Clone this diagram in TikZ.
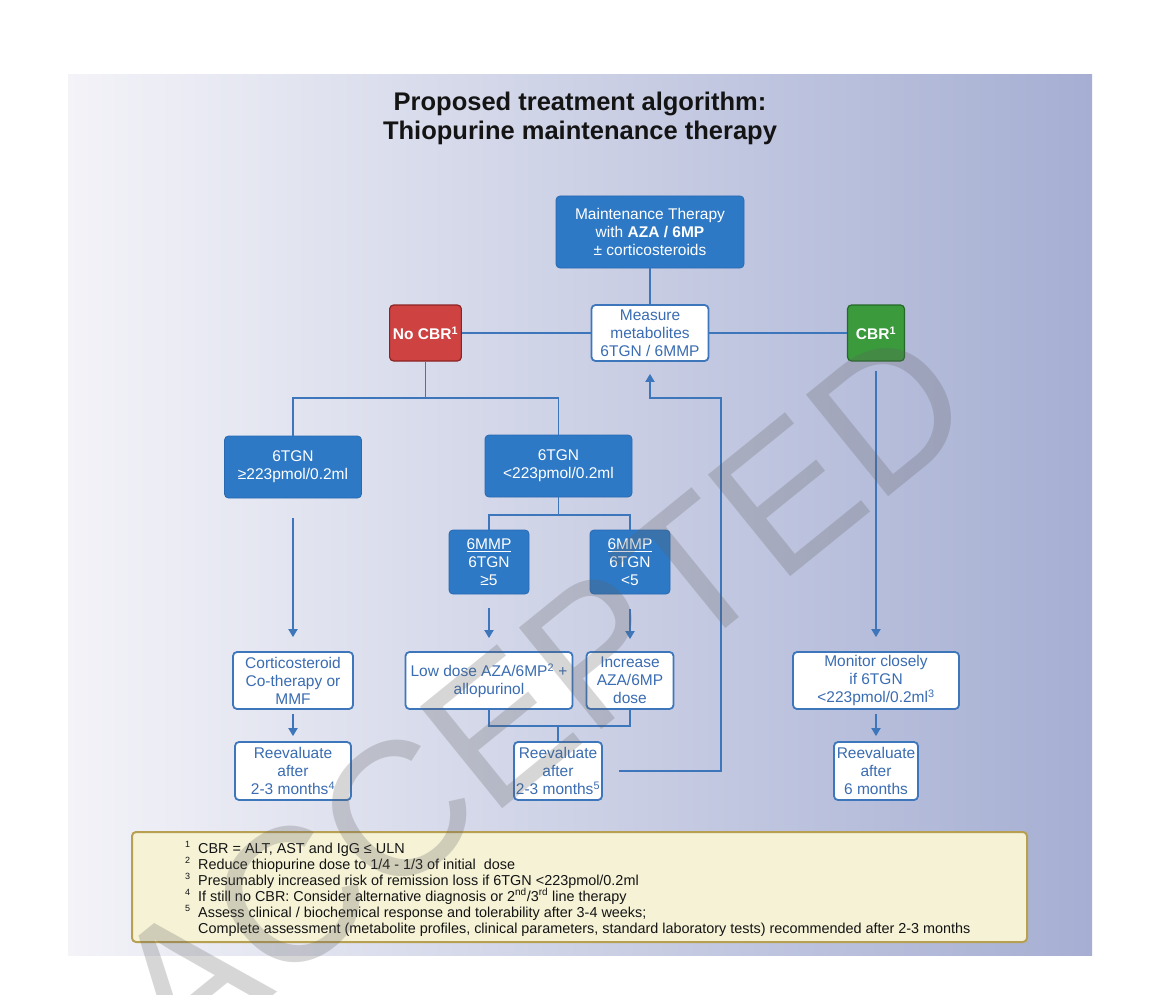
\documentclass[tikz,border=0pt]{standalone}
\usepackage{fontspec}
\setmainfont{Liberation Sans}
\usetikzlibrary{arrows.meta,calc}
\definecolor{bgl}{RGB}{243,243,248}
\definecolor{bgr}{RGB}{166,175,211}
\definecolor{boxblue}{RGB}{46,121,197}
\definecolor{boxblueb}{RGB}{40,106,178}
\definecolor{lineblue}{RGB}{62,118,188}
\definecolor{textblue}{RGB}{58,108,178}
\definecolor{redfill}{RGB}{206,66,66}
\definecolor{redb}{RGB}{140,36,36}
\definecolor{greenfill}{RGB}{58,154,60}
\definecolor{greenb}{RGB}{36,105,40}
\definecolor{footfill}{RGB}{245,242,214}
\definecolor{footb}{RGB}{184,160,82}
\definecolor{titlec}{RGB}{20,20,20}
\definecolor{wmgray}{RGB}{95,95,95}
\tikzset{
  boxfont/.style={font=\fontsize{15.5}{18}\selectfont},
  bluebox/.style={boxfont, fill=boxblue, draw=boxblueb, line width=0.8pt, rounded corners=4pt, text=white, align=center, inner sep=2pt},
  whitebox/.style={boxfont, fill=white, draw=lineblue, line width=1.8pt, rounded corners=4pt, text=textblue, align=center, inner sep=2pt},
  redbox/.style={fill=redfill, draw=redb, line width=1.2pt, rounded corners=4pt, text=white, align=center, font=\fontsize{15.5}{18}\selectfont\bfseries},
  greenbox/.style={fill=greenfill, draw=greenb, line width=1.2pt, rounded corners=4pt, text=white, align=center, font=\fontsize{15.5}{18}\selectfont\bfseries},
  conn/.style={draw=lineblue, line width=1.8pt},
  arr/.style={conn, -{Triangle[width=9pt,length=8pt]}},
  fntext/.style={anchor=base west, inner sep=0pt, text=titlec, font=\fontsize{14.4}{16}\selectfont},
  fnmk/.style={anchor=base west, inner sep=0pt, text=titlec, font=\fontsize{9}{9}\selectfont},
}
\begin{document}
\begin{tikzpicture}[x=1pt,y=-1pt]
\useasboundingbox (0,0) rectangle (1170,995);
\fill[white] (0,0) rectangle (1170,995);
\shade[left color=bgl,right color=bgr] (68,75) rectangle (1092,955);

% title
\node[text=titlec, font=\fontsize{25.5}{29}\selectfont\bfseries, align=center] (title) at (580,118) {Proposed treatment algorithm:\\Thiopurine maintenance therapy};

% nodes
\node[bluebox, minimum width=188pt, minimum height=72pt] (maint) at (650,232) {Maintenance Therapy\\with \textbf{AZA / 6MP}\\± corticosteroids};
\node[whitebox, minimum width=117pt, minimum height=56pt] (measure) at (650,333) {Measure\\metabolites\\6TGN / 6MMP};
\node[redbox, minimum width=67pt, minimum height=56pt] (nocbr) at (425.5,333) {No CBR\textsuperscript{1}};
\node[greenbox, minimum width=57pt, minimum height=56pt] (cbr) at (876,333) {CBR\textsuperscript{1}};

\node[bluebox, minimum width=137pt, minimum height=62pt] (tgnhi) at (293,467) {6TGN\\≥223pmol/0.2ml};
\node[bluebox, minimum width=147pt, minimum height=62pt] (tgnlo) at (558.5,466) {6TGN\\<223pmol/0.2ml};
\node[bluebox, minimum width=80pt, minimum height=64pt] (mmphi) at (489,562) {\underline{6MMP}\\6TGN\\≥5};
\node[bluebox, minimum width=80pt, minimum height=64pt] (mmplo) at (630,562) {\underline{6MMP}\\6TGN\\<5};

\node[whitebox, minimum width=120pt, minimum height=57pt] (cortico) at (293,680.5) {Corticosteroid\\Co-therapy or\\MMF};
\node[whitebox, minimum width=167pt, minimum height=57pt] (lowdose) at (489,680.5) {Low dose AZA/6MP\textsuperscript{2} +\\allopurinol};
\node[whitebox, minimum width=87pt, minimum height=57pt] (increase) at (630,680.5) {Increase\\AZA/6MP\\dose};
\node[whitebox, minimum width=166pt, minimum height=57pt] (monitor) at (876,680.5) {Monitor closely\\if 6TGN\\<223pmol/0.2ml\textsuperscript{3}};

\node[whitebox, minimum width=116pt, minimum height=58pt] (reev1) at (293,771) {Reevaluate\\after\\2-3 months\textsuperscript{4}};
\node[whitebox, minimum width=86pt, minimum height=58pt] (reev2) at (558,771) {Reevaluate\\after\\2-3 months\textsuperscript{5}};
\node[whitebox, minimum width=84pt, minimum height=58pt] (reev3) at (876,771) {Reevaluate\\after\\6 months};

% connectors
\draw[conn] (maint.south) -- (measure.north);
\draw[conn] (nocbr.east) -- (measure.west);
\draw[conn] (measure.east) -- (cbr.west);
\coordinate (j1) at (425.5,398);
\draw[conn] (nocbr.south) -- (j1);
\draw[conn] (tgnhi.north) |- (j1) -| (tgnlo.north);
\coordinate (j2) at (558.5,515);
\draw[conn] (tgnlo.south) -- (j2);
\draw[conn] (mmphi.north) |- (j2) -| (mmplo.north);

\draw[arr, shorten <=20pt, shorten >=14pt] (tgnhi.south) -- (cortico.north);
\draw[arr, shorten <=14pt, shorten >=13pt] (mmphi.south) -- (lowdose.north);
\draw[arr, shorten <=15pt, shorten >=12pt] (mmplo.south) -- (increase.north);
\draw[arr, shorten <=9pt, shorten >=14pt] (cbr.south) -- (monitor.north);
\draw[arr, shorten <=4pt, shorten >=5pt] (cortico.south) -- (reev1.north);
\draw[arr, shorten <=4pt, shorten >=5pt] (monitor.south) -- (reev3.north);

\coordinate (j3) at (558,726);
\draw[conn] (lowdose.south) |- (j3) -| (increase.south);
\draw[conn] (j3) -- (reev2.north);

\coordinate (fb1) at (721,398);
\draw[arr] ([xshift=16pt]reev2.east) -| (fb1) -| ([yshift=-12pt]measure.south);

% footnotes
\draw[fill=footfill, draw=footb, line width=2pt, rounded corners=4pt] (132,832) rectangle (1027,942);
\node[fnmk] (m1) at (185,847) {1};
\node[fnmk] (m2) at (185,863) {2};
\node[fnmk] (m3) at (185,879) {3};
\node[fnmk] (m4) at (185,895) {4};
\node[fnmk] (m5) at (185,911) {5};
\node[fntext] (f1) at (198,853) {CBR = ALT, AST and IgG ≤ ULN};
\node[fntext] (f2) at (198,869) {Reduce thiopurine dose to 1/4 - 1/3 of initial\ \ dose};
\node[fntext] (f3) at (198,885) {Presumably increased risk of remission loss if 6TGN <223pmol/0.2ml};
\node[fntext] (f4) at (198,901) {If still no CBR: Consider alternative diagnosis or 2\textsuperscript{nd}/3\textsuperscript{rd} line therapy};
\node[fntext] (f5) at (198,917) {Assess clinical / biochemical response and tolerability after 3-4 weeks;};
\node[fntext] (f6) at (198,933) {Complete assessment (metabolite profiles, clinical parameters, standard laboratory tests) recommended after 2-3 months};

% watermark
\node[rotate=39, text=wmgray, opacity=0.25, font=\fontsize{190}{190}\selectfont] (wm) at (540,695) {ACCEPTED};
\end{tikzpicture}
\end{document}
